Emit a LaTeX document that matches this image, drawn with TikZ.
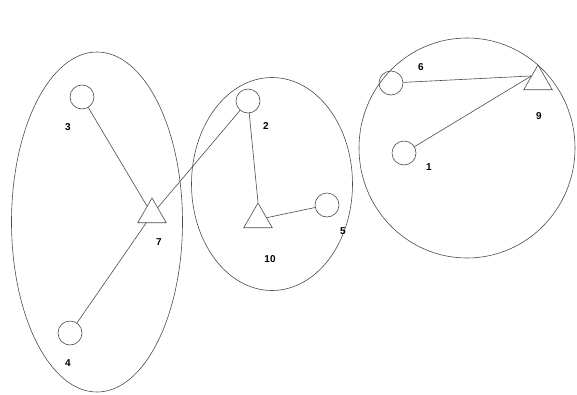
\documentclass[tikz,border=0pt]{standalone}
\usepackage{fontspec}
\setmainfont{Liberation Sans}
\usetikzlibrary{shapes.geometric,calc}
\begin{document}
\begin{tikzpicture}[x=1pt,y=-1pt,
  ln/.style={draw=black!70,line width=0.6pt},
  vert/.style={ln,circle,minimum size=24pt,inner sep=0pt},
  tri/.style={ln,regular polygon,regular polygon sides=3,minimum size=33pt,inner sep=0pt},
  grp/.style={ln,ellipse,inner sep=0pt},
  lab/.style={font=\fontsize{10}{12}\selectfont\bfseries,inner sep=0pt}]
\useasboundingbox[fill=white] (0,0) rectangle (577,394);
% groups
\node[grp,minimum width=171pt,minimum height=340pt] (gA) at (97,222) {};
\node[grp,minimum width=161pt,minimum height=213pt] (gB) at (272,184) {};
\node[grp,minimum width=216pt,minimum height=220pt] (gC) at (467,148) {};
% vertices
\node[vert] (n3) at (82,97) {};
\node[vert] (n4) at (70,333) {};
\node[tri] (n7) at (152,214.5) {};
\node[vert] (n2) at (248,101) {};
\node[tri] (n10) at (258,219.5) {};
\node[vert] (n5) at (327,205) {};
\node[vert] (n6) at (391,83) {};
\node[vert] (n1) at (404,153) {};
\node[tri] (n9) at (538,81.5) {};
\coordinate (p9) at ($(n9.corner 1)!0.45!(n9.corner 2)$);
\coordinate (p10) at (n10.corner 1);
% labels
\node[lab] (l3) at (68,127) {3};
\node[lab] (l4) at (68,363) {4};
\node[lab] (l7) at (159,242) {7};
\node[lab] (l2) at (266,126) {2};
\node[lab] (l10) at (270,259) {10};
\node[lab] (l5) at (343,231) {5};
\node[lab] (l6) at (421,67) {6};
\node[lab] (l1) at (429,167) {1};
\node[lab] (l9) at (539,116) {9};
% edges
\draw[ln] (n3) -- (n7);
\draw[ln] (n4) -- (n7);
\draw[ln] (n2) -- (n7);
\draw[ln] (n2) -- (p10);
\draw[ln] (n5) -- (n10);
\draw[ln] (n6) -- (p9);
\draw[ln] (n1) -- (p9);
\end{tikzpicture}
\end{document}
